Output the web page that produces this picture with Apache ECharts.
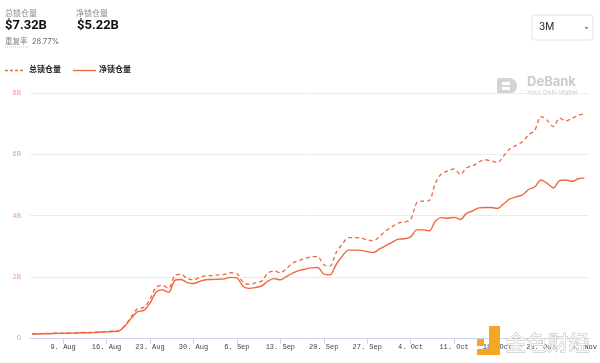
<!DOCTYPE html>
<html>
<head>
<meta charset="utf-8">
<script src="https://cdn.jsdelivr.net/npm/echarts@6/dist/echarts.min.js"></script>
<style>
html,body{margin:0;padding:0;background:#fff;}
#chart{width:600px;height:363px;}
</style>
</head>
<body>
<div id="chart"></div>
<script>
// ---- data ----
var startDate = '2020-08-04';
var tickLabels = ['9. Aug','16. Aug','23. Aug','30. Aug','6. Sep','13. Sep','20. Sep','27. Sep','4. Oct','11. Oct','18. Oct','25. Oct','1. Nov'];
var yTickLabels = ['0','2B','4B','6B','8B'];
var totalName = '总锁仓量';
var netName = '净锁仓量';
var totalTVL = [0.14,0.14,0.15,0.15,0.16,0.16,0.17,0.17,0.18,0.18,0.19,0.20,0.21,0.22,0.24,
  0.42,0.70,0.96,1.00,1.27,1.66,1.72,1.63,2.04,2.08,1.94,1.90,1.98,2.03,2.04,
  2.06,2.08,2.13,2.10,1.82,1.75,1.80,1.86,2.12,2.19,2.13,2.27,2.45,2.53,2.60,
  2.65,2.66,2.39,2.35,2.79,3.07,3.28,3.28,3.26,3.21,3.17,3.32,3.50,3.63,3.75,
  3.79,3.87,4.42,4.47,4.49,5.07,5.37,5.46,5.52,5.34,5.56,5.62,5.75,5.82,5.78,
  5.73,5.95,6.18,6.29,6.41,6.63,6.78,7.23,7.11,6.90,7.18,7.09,7.17,7.27,7.32];
var netTVL = [0.13,0.13,0.14,0.14,0.15,0.15,0.16,0.16,0.17,0.17,0.18,0.19,0.20,0.21,0.23,
  0.40,0.65,0.86,0.90,1.14,1.50,1.57,1.49,1.88,1.91,1.81,1.78,1.85,1.90,1.91,
  1.92,1.93,1.98,1.96,1.69,1.62,1.65,1.70,1.86,1.94,1.90,2.01,2.12,2.20,2.25,
  2.29,2.30,2.09,2.06,2.40,2.68,2.87,2.87,2.86,2.82,2.79,2.91,3.02,3.12,3.23,
  3.24,3.30,3.53,3.53,3.50,3.82,3.93,3.91,3.94,3.87,4.07,4.15,4.25,4.26,4.26,
  4.23,4.38,4.54,4.61,4.67,4.85,4.93,5.16,5.05,4.90,5.14,5.16,5.11,5.20,5.22];
var headerTotal = '$7.32B';
var headerNet = '$5.22B';
var dupRate = '28.77%';
var rangeLabel = '3M';

// ---- build (x = days since startDate) ----
var DAY = 86400000;
var t0 = Date.parse(startDate + 'T00:00:00Z');
function series(arr){ return arr.map(function(v,i){ return [i, v]; }); }
var months = {Jan:0,Feb:1,Mar:2,Apr:3,May:4,Jun:5,Jul:6,Aug:7,Sep:8,Oct:9,Nov:10,Dec:11};
var tickValues = tickLabels.map(function(s){
  var p = s.split('. ');
  return Math.round((Date.UTC(2020, months[p[1]], parseInt(p[0],10)) - t0) / DAY);
});
var labelMap = {};
tickValues.forEach(function(v,i){ labelMap[v] = tickLabels[i]; });
var lastIdx = totalTVL.length - 1;

var color = '#f0673f';
var chart = echarts.init(document.getElementById('chart'), null, {renderer:'canvas'});
chart.setOption({
  animation:false,
  backgroundColor:'#fff',
  grid:{left:30,right:8,top:93,bottom:25,containLabel:false},
  xAxis:{
    type:'value',
    min: -0.34,
    max: lastIdx + 0.72,
    splitLine:{show:false},
    axisLine:{lineStyle:{color:'#ccd6eb'}},
    axisTick:{show:true, length:6, lineStyle:{color:'#ccd6eb'}, customValues: tickValues},
    axisLabel:{
      customValues: tickValues,
      fontFamily:'Liberation Mono', fontSize:7, color:'#444', margin:6,
      formatter:function(v){ return labelMap[Math.round(v)] || ''; }
    }
  },
  yAxis:{
    type:'value', min:0, max:8, interval:2,
    axisLine:{show:false}, axisTick:{show:false},
    splitLine:{lineStyle:{color:'#ececec'}},
    axisLabel:{fontSize:7, color:'#f29c86', margin:9, fontFamily:'Noto Sans',
      formatter:function(v){ return yTickLabels[Math.round(v/2)]; }}
  },
  series:[
    {name:totalName, type:'line', data:series(totalTVL), showSymbol:false, symbol:'none', smooth:0.3,
     lineStyle:{color:color, width:1.3, type:[4,3]}, itemStyle:{color:color}},
    {name:netName, type:'line', data:series(netTVL), showSymbol:false, symbol:'none', smooth:0.3,
     lineStyle:{color:color, width:1.4}, itemStyle:{color:color}}
  ],
  graphic:[
    {type:'text', left:5, top:9, style:{text:totalName, fontSize:8, fill:'#8a8a8a', fontFamily:'Noto Sans CJK SC'}},
    {type:'text', left:5, top:19, style:{text:headerTotal, fontSize:13, fontWeight:'bold', fill:'#111', fontFamily:'Roboto'}},
    {type:'text', left:76, top:9, style:{text:netName, fontSize:8, fill:'#8a8a8a', fontFamily:'Noto Sans CJK SC'}},
    {type:'text', left:77, top:19, style:{text:headerNet, fontSize:13, fontWeight:'bold', fill:'#111', fontFamily:'Roboto'}},
    {type:'text', left:5, top:37, style:{text:'重复率', fontSize:7.5, fill:'#8a8a8a', fontFamily:'Noto Sans CJK SC'}},
    {type:'line', shape:{x1:5,y1:47,x2:28,y2:47}, style:{stroke:'#aaa', lineWidth:0.6, lineDash:[1,1]}},
    {type:'text', left:32, top:38, style:{text:dupRate, fontSize:7.5, fill:'#666', fontFamily:'Inter'}},
    // legend (manual)
    {type:'line', shape:{x1:5,y1:70.5,x2:24,y2:70.5}, style:{stroke:color, lineWidth:1.3, lineDash:[3,2]}},
    {type:'text', left:29, top:65, style:{text:totalName, fontSize:8, fontWeight:'bold', fill:'#222', fontFamily:'Noto Sans CJK SC'}},
    {type:'line', shape:{x1:73,y1:70.5,x2:96,y2:70.5}, style:{stroke:color, lineWidth:1.4}},
    {type:'text', left:99, top:65, style:{text:netName, fontSize:8, fontWeight:'bold', fill:'#222', fontFamily:'Noto Sans CJK SC'}},
    // range dropdown
    {type:'rect', shape:{x:532,y:15,width:61,height:25,r:3}, style:{fill:'#fff', stroke:'#e2e2e2', lineWidth:1}},
    {type:'text', left:539, top:22, style:{text:rangeLabel, fontSize:10, fill:'#222', fontFamily:'Inter'}},
    {type:'polygon', shape:{points:[[584.5,27],[588.5,27],[586.5,29.5]]}, style:{fill:'#888'}},
    // DeBank watermark
    {type:'rect', shape:{x:497,y:78,width:20,height:16,r:[2,8,8,2]}, style:{fill:'#d4d4d4'}},
    {type:'rect', shape:{x:502,y:82,width:8,height:3}, style:{fill:'#fff'}},
    {type:'rect', shape:{x:502,y:87,width:8,height:3}, style:{fill:'#fff'}},
    {type:'text', left:527, top:76, style:{text:'DeBank', fontSize:13, fontWeight:'bold', fill:'#cbcbcb', fontFamily:'Inter'}},
    {type:'text', left:527, top:90, style:{text:'Your DeFi Wallet', fontSize:6.5, fill:'#cbcbcb', fontFamily:'Inter'}},
    // 金色财经 watermark
    {type:'rect', z:100, shape:{x:489,y:326,width:11,height:24}, style:{fill:'#f5a623'}},
    {type:'rect', z:100, shape:{x:477,y:339,width:7,height:7}, style:{fill:'#f5a623'}},
    {type:'rect', z:100, shape:{x:477,y:349,width:23,height:6}, style:{fill:'#f5a623'}},
    {type:'text', z:100, left:505, top:331, style:{text:'金色财经', fontSize:21, fill:'rgba(255,255,255,0.85)', stroke:'#b5b5b5', lineWidth:0.8, fontFamily:'Noto Sans CJK SC'}}
  ]
});
</script>
</body>
</html>
